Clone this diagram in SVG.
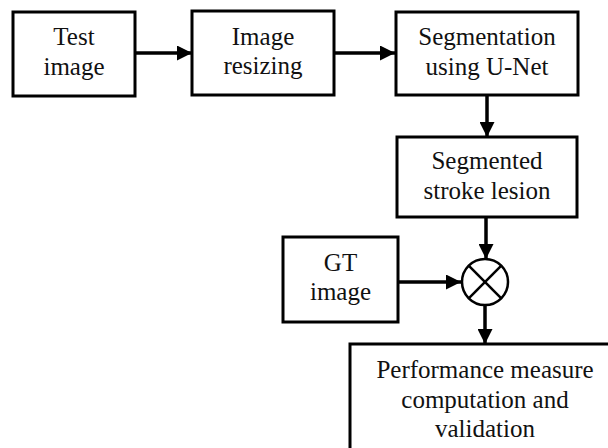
<svg xmlns="http://www.w3.org/2000/svg" width="608" height="448" viewBox="0 0 608 448">
<style>
.box{fill:#fff;stroke:#000;stroke-width:3}
.t{font-family:'Liberation Serif','Times New Roman','DejaVu Serif',serif;font-size:25px;fill:#111;text-anchor:middle}
.c{stroke:#000;stroke-width:3.5;fill:none}
</style>
<defs>
<marker id="ah" viewBox="0 0 10 10" refX="10" refY="5" markerWidth="15" markerHeight="15" markerUnits="userSpaceOnUse" orient="auto">
<path d="M0,0 L10,5 L0,10 Z" fill="#000"/>
</marker>
</defs>
<rect width="608" height="448" fill="#fff"/>
<g id="connectors">
<line class="c" x1="135" y1="53" x2="192" y2="53" marker-end="url(#ah)"/>
<line class="c" x1="334" y1="53" x2="395" y2="53" marker-end="url(#ah)"/>
<line class="c" x1="487" y1="95" x2="487" y2="137" marker-end="url(#ah)"/>
<line class="c" x1="486" y1="217" x2="486" y2="259" marker-end="url(#ah)"/>
<line class="c" x1="398" y1="282" x2="461" y2="282" marker-end="url(#ah)"/>
<line class="c" x1="485" y1="305" x2="485" y2="344" marker-end="url(#ah)"/>
</g>
<g id="test-image">
<rect class="box" x="13" y="12" width="122" height="84"/>
<text class="t" x="74" y="45" font-family="Liberation Serif, serif">Test</text>
<text class="t" x="74" y="75" font-family="Liberation Serif, serif">image</text>
</g>
<g id="image-resizing">
<rect class="box" x="192" y="11" width="142" height="84"/>
<text class="t" x="263" y="45">Image</text>
<text class="t" x="263" y="74">resizing</text>
</g>
<g id="segmentation">
<rect class="box" x="396" y="12" width="182" height="83"/>
<text class="t" x="487" y="45">Segmentation</text>
<text class="t" x="487" y="75">using U-Net</text>
</g>
<g id="segmented-lesion">
<rect class="box" x="397" y="137" width="180" height="80"/>
<text class="t" x="487" y="169">Segmented</text>
<text class="t" x="487" y="199">stroke lesion</text>
</g>
<g id="gt-image">
<rect class="box" x="283" y="237" width="115" height="85"/>
<text class="t" x="340.5" y="271">GT</text>
<text class="t" x="340.5" y="300">image</text>
</g>
<g id="multiply">
<circle cx="485" cy="282" r="23" fill="#fff" stroke="#000" stroke-width="2.5"/>
<line x1="468.7" y1="265.7" x2="501.3" y2="298.3" stroke="#000" stroke-width="2.5"/>
<line x1="501.3" y1="265.7" x2="468.7" y2="298.3" stroke="#000" stroke-width="2.5"/>
</g>
<g id="performance">
<rect class="box" x="350" y="344" width="272" height="120"/>
<text class="t" x="485" y="378">Performance measure</text>
<text class="t" x="485" y="408">computation and</text>
<text class="t" x="485" y="437">validation</text>
</g>
</svg>
